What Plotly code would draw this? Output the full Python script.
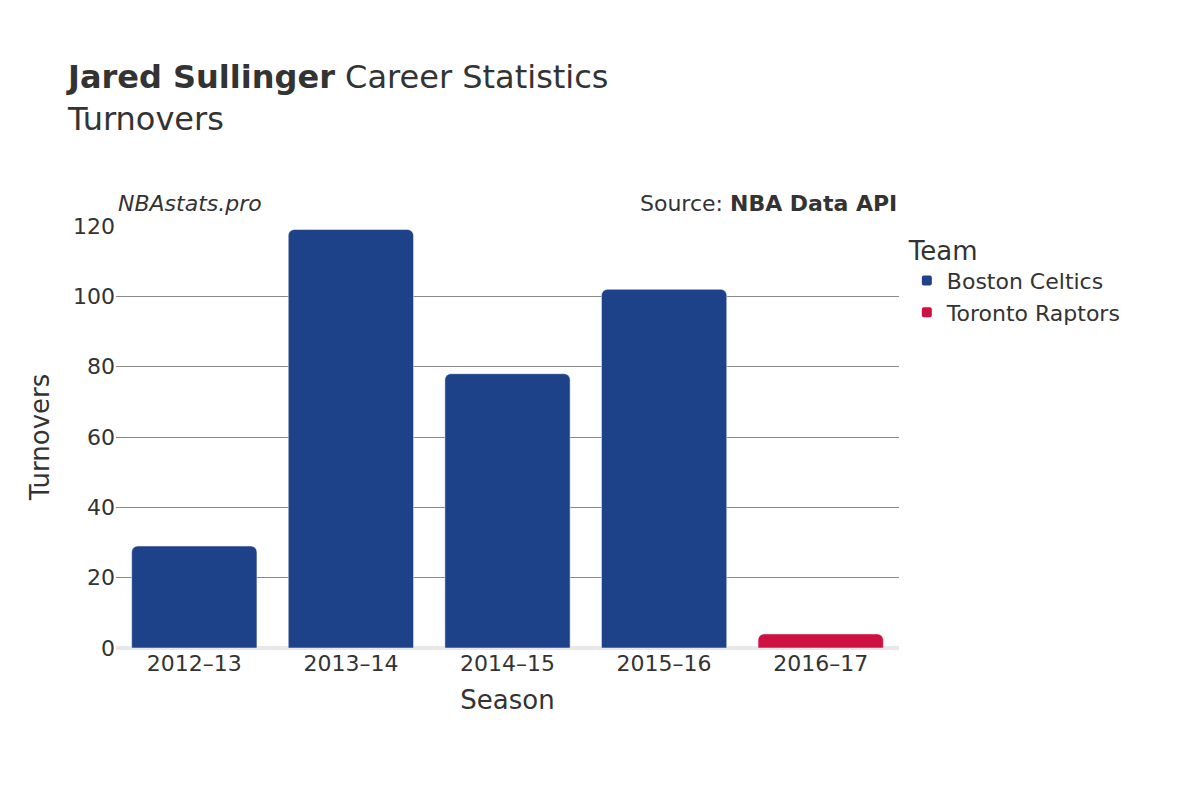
import plotly.graph_objects as go

seasons = ["2012–13", "2013–14", "2014–15", "2015–16", "2016–17"]
celtics_seasons = ["2012–13", "2013–14", "2014–15", "2015–16"]
celtics_tov = [29, 119, 78, 102]
raptors_seasons = ["2016–17"]
raptors_tov = [4]

fig = go.Figure()
fig.add_trace(go.Bar(name="Boston Celtics", x=celtics_seasons, y=celtics_tov,
                     marker_color="#1d428a"))
fig.add_trace(go.Bar(name="Toronto Raptors", x=raptors_seasons, y=raptors_tov,
                     marker_color="#ce1141"))

fig.update_layout(
    width=1200, height=800,
    template="plotly_white",
    font=dict(family="DejaVu Sans", size=20, color="#333"),
    barmode="relative",
    bargap=0.2,
    barcornerradius=6,
    margin=dict(l=108, r=309, t=218, b=160),
    title=dict(text="<b>Jared Sullinger</b> Career Statistics<br>Turnovers",
               x=0.05, xanchor="left", y=0.9, yanchor="top",
               font=dict(size=32, color="#333")),
    legend=dict(title=dict(text="Team", font=dict(size=26)), x=1.01, y=1.0,
                yanchor="top", font=dict(size=22), itemsizing="constant"),
    annotations=[
        dict(text="<i>NBAstats.pro</i>", x=0.0, y=1.02, xref="paper", yref="paper",
             xanchor="left", yanchor="bottom", showarrow=False, font=dict(size=22)),
        dict(text="Source: <b>NBA Data API</b>", x=1.0, y=1.02, xref="paper",
             yref="paper", xanchor="right", yanchor="bottom", showarrow=False,
             font=dict(size=22)),
    ],
)
fig.update_xaxes(title=dict(text="Season", font=dict(size=26)),
                 categoryorder="array", categoryarray=seasons, tickfont=dict(size=22))
fig.update_yaxes(title=dict(text="Turnovers", font=dict(size=26)), range=[0, 120],
                 dtick=20, gridcolor="#888", zeroline=True, zerolinecolor="#e8e8e8",
                 zerolinewidth=4, tickfont=dict(size=22))

fig.write_html("out.html")
